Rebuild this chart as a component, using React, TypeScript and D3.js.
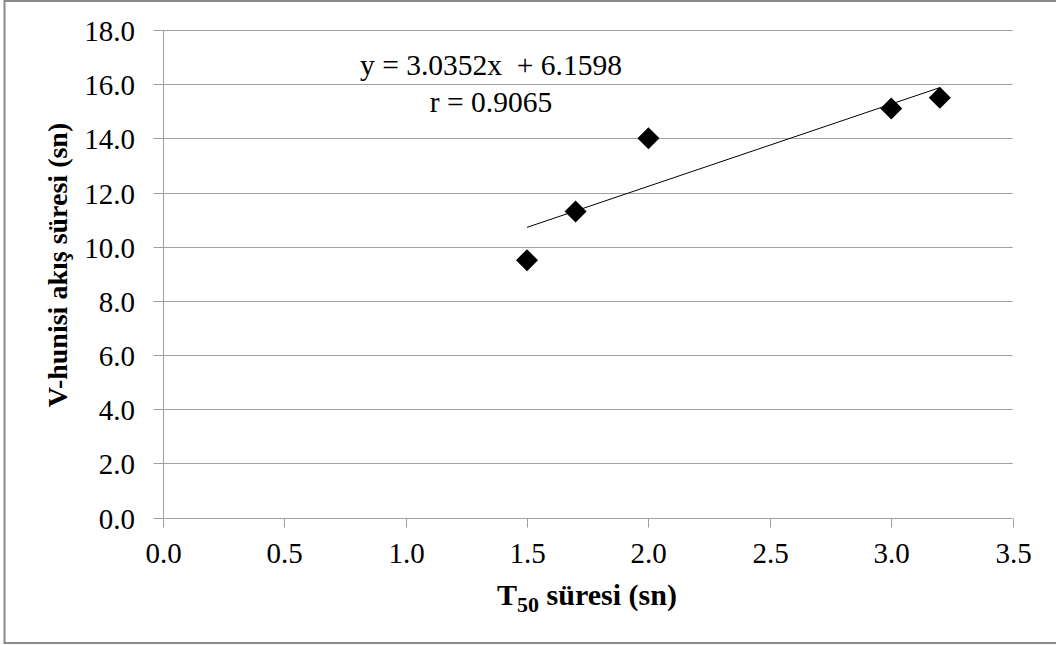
import * as d3 from 'd3';

const t50 = [1.5, 1.7, 2.0, 3.0, 3.2];
const vFunnel = [9.5, 11.3, 14.0, 15.1, 15.5];
const xTicks = [0, 0.5, 1.0, 1.5, 2.0, 2.5, 3.0, 3.5];
const yTicks = [0, 2, 4, 6, 8, 10, 12, 14, 16, 18];
const slope = 3.0352;
const intercept = 6.1598;
const eqLabel = 'y = 3.0352x  + 6.1598';
const rLabel = 'r = 0.9065';

const W = 1056;
const H = 645;
const FONT = 'Liberation Serif';
const GRID = '#a0a0a0';

export default function App() {
  const x = d3.scaleLinear().domain([0, 3.5]).range([162.7, 1012.7]);
  const y = d3.scaleLinear().domain([0, 18]).range([517.5, 30]);
  const fmt = d3.format('.1f');
  const snap = (v: number) => Math.round(v) + 0.5;
  const x0 = snap(x(0));
  const y0 = snap(y(0));
  const xr = d3.extent(t50) as [number, number];
  const diamond = 'M0,-11L11,0L0,11L-11,0Z';
  const text = { fontFamily: FONT, whiteSpace: 'pre' as const };

  return (
    <svg width={W} height={H} style={{ position: 'absolute', left: 0, top: 0 }}>
      <rect x={4.5} y={1} width={W + 10} height={642} fill="white" stroke="#8a8a8a" strokeWidth={2} />

      {/* gridlines */}
      {yTicks.filter((d) => d > 0).map((d) => (
        <line key={d} x1={x0} x2={x(3.5)} y1={snap(y(d))} y2={snap(y(d))} stroke={GRID} />
      ))}

      {/* y axis */}
      <line x1={x0} x2={x0} y1={y(18)} y2={y0} stroke={GRID} />
      {yTicks.map((d) => (
        <g key={d} transform={`translate(0,${snap(y(d))})`}>
          <line x1={x0 - 10} x2={x0} stroke={GRID} />
          <text x={135} y={10} textAnchor="end" fontSize={29} style={text}>{fmt(d)}</text>
        </g>
      ))}

      {/* x axis */}
      <line x1={x0} x2={x(3.5)} y1={y0} y2={y0} stroke={GRID} />
      {xTicks.map((d) => (
        <g key={d} transform={`translate(${snap(x(d))},${y0})`}>
          <line y1={0} y2={9} stroke={GRID} />
          <text y={44} textAnchor="middle" fontSize={29} style={text}>{fmt(d)}</text>
        </g>
      ))}

      {/* trendline */}
      <line
        x1={x(xr[0])}
        y1={y(slope * xr[0] + intercept)}
        x2={x(xr[1])}
        y2={y(slope * xr[1] + intercept)}
        stroke="#000"
        strokeWidth={1}
      />

      {/* points */}
      {t50.map((v, i) => (
        <path key={i} transform={`translate(${x(v)},${y(vFunnel[i])})`} d={diamond} fill="#000" />
      ))}

      {/* trendline equation */}
      <text x={491} y={75} textAnchor="middle" fontSize={29.5} style={text}>{eqLabel}</text>
      <text x={491} y={112} textAnchor="middle" fontSize={29.5} style={text}>{rLabel}</text>

      {/* x title */}
      <text x={587} y={605} textAnchor="middle" fontSize={30} fontWeight="bold" style={text}>
        T<tspan fontSize={22} dy={7}>50</tspan><tspan dy={-7}> süresi (sn)</tspan>
      </text>

      {/* y title */}
      <text transform="translate(67,265) rotate(-90)" textAnchor="middle" fontSize={28} fontWeight="bold" style={text}>
        V-hunisi akış süresi (sn)
      </text>
    </svg>
  );
}
